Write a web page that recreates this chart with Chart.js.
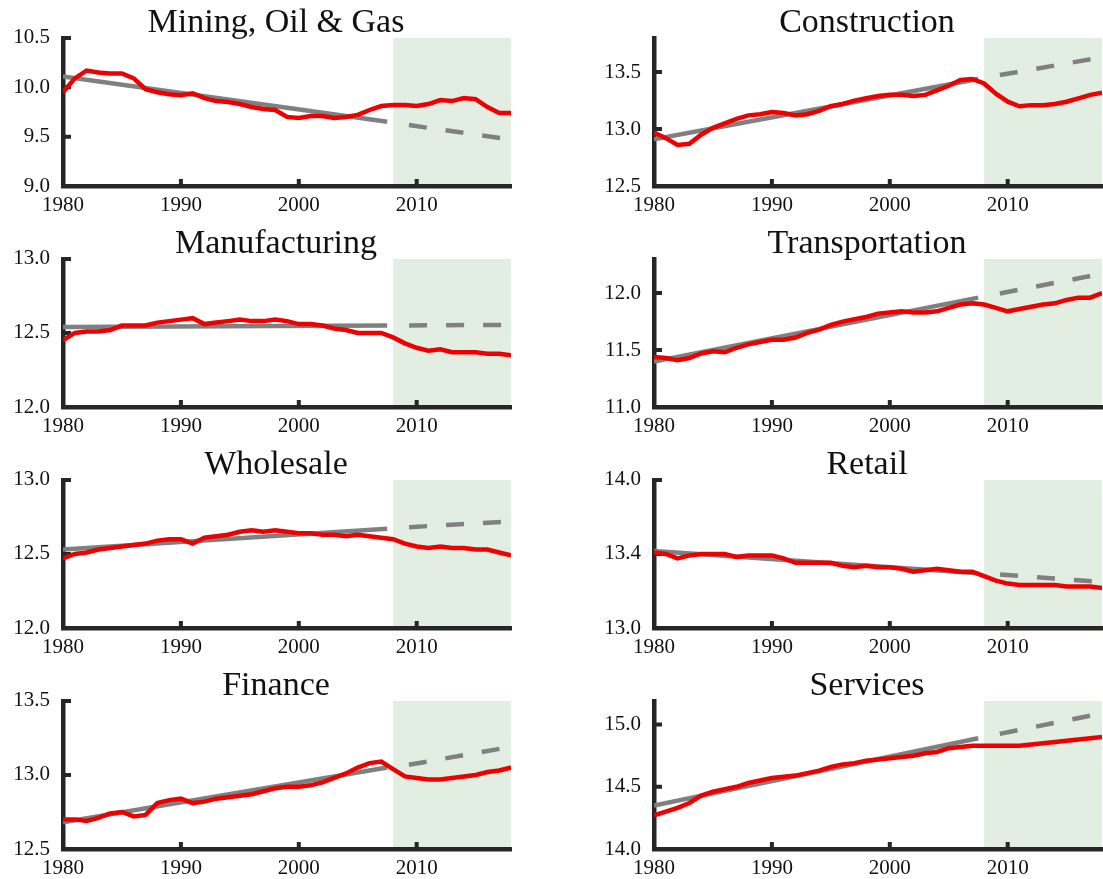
<!DOCTYPE html>
<html>
<head>
<meta charset="utf-8">
<title>Sectors</title>
<script src="https://cdn.jsdelivr.net/npm/chart.js@4.4.1/dist/chart.umd.min.js"></script>
<style>
  html, body { margin: 0; padding: 0; background: #fff; overflow: hidden; }
  .panel { position: absolute; width: 520px; height: 221px; }
</style>
</head>
<body>
<div class="panel" style="left:0px;top:0px"><canvas id="mining"></canvas></div>
<div class="panel" style="left:591px;top:0px"><canvas id="construction"></canvas></div>
<div class="panel" style="left:0px;top:221px"><canvas id="manufacturing"></canvas></div>
<div class="panel" style="left:591px;top:221px"><canvas id="transportation"></canvas></div>
<div class="panel" style="left:0px;top:442px"><canvas id="wholesale"></canvas></div>
<div class="panel" style="left:591px;top:442px"><canvas id="retail"></canvas></div>
<div class="panel" style="left:0px;top:663px"><canvas id="finance"></canvas></div>
<div class="panel" style="left:591px;top:663px"><canvas id="services"></canvas></div>
<script>
// years on the x axis
const years = [1980, 1981, 1982, 1983, 1984, 1985, 1986, 1987, 1988, 1989,
               1990, 1991, 1992, 1993, 1994, 1995, 1996, 1997, 1998, 1999,
               2000, 2001, 2002, 2003, 2004, 2005, 2006, 2007, 2008, 2009,
               2010, 2011, 2012, 2013, 2014, 2015, 2016, 2017, 2018]
const xTicks = [1980, 1990, 2000, 2010]
const shadeYears = [2008, 2018]
// trend: solid from 1980 to 2007.5, dashed from 2008 to 2018
const trendYears = [1980, 2007.5, 2008, 2018]

// red series
const mining = [9.95, 10.09, 10.17, 10.15, 10.14, 10.14, 10.09, 9.98, 9.95, 9.93,
                9.92, 9.94, 9.89, 9.86, 9.85, 9.83, 9.80, 9.78, 9.77, 9.70,
                9.69, 9.71, 9.71, 9.69, 9.70, 9.72, 9.77, 9.81, 9.82, 9.82,
                9.81, 9.83, 9.87, 9.86, 9.89, 9.88, 9.80, 9.74, 9.74]
const construction = [12.97, 12.92, 12.86, 12.87, 12.95, 13.01, 13.05, 13.09, 13.12, 13.13,
                      13.15, 13.14, 13.12, 13.13, 13.16, 13.20, 13.22, 13.25, 13.27, 13.29,
                      13.30, 13.30, 13.29, 13.30, 13.34, 13.38, 13.43, 13.44, 13.40, 13.31,
                      13.24, 13.20, 13.21, 13.21, 13.22, 13.24, 13.27, 13.30, 13.32]
const manufacturing = [12.45, 12.50, 12.51, 12.51, 12.52, 12.55, 12.55, 12.55, 12.57, 12.58,
                       12.59, 12.60, 12.56, 12.57, 12.58, 12.59, 12.58, 12.58, 12.59, 12.58,
                       12.56, 12.56, 12.55, 12.53, 12.52, 12.50, 12.50, 12.50, 12.47, 12.43,
                       12.40, 12.38, 12.39, 12.37, 12.37, 12.37, 12.36, 12.36, 12.35]
const transportation = [11.44, 11.43, 11.41, 11.43, 11.47, 11.49, 11.48, 11.52, 11.55, 11.57,
                        11.59, 11.59, 11.61, 11.65, 11.68, 11.72, 11.75, 11.77, 11.79, 11.82,
                        11.83, 11.84, 11.83, 11.83, 11.84, 11.87, 11.90, 11.91, 11.90, 11.87,
                        11.84, 11.86, 11.88, 11.90, 11.91, 11.94, 11.96, 11.96, 12.00]
const wholesale = [12.47, 12.50, 12.51, 12.53, 12.54, 12.55, 12.56, 12.57, 12.59, 12.60,
                   12.60, 12.57, 12.61, 12.62, 12.63, 12.65, 12.66, 12.65, 12.66, 12.65,
                   12.64, 12.64, 12.63, 12.63, 12.62, 12.63, 12.62, 12.61, 12.60, 12.57,
                   12.55, 12.54, 12.55, 12.54, 12.54, 12.53, 12.53, 12.51, 12.49]
const retail = [13.51, 13.50, 13.47, 13.49, 13.50, 13.50, 13.50, 13.48, 13.49, 13.49,
                13.49, 13.47, 13.44, 13.44, 13.44, 13.44, 13.42, 13.41, 13.42, 13.41,
                13.41, 13.40, 13.38, 13.39, 13.40, 13.39, 13.38, 13.38, 13.35, 13.32,
                13.30, 13.29, 13.29, 13.29, 13.29, 13.28, 13.28, 13.28, 13.27]
const finance = [12.70, 12.70, 12.69, 12.71, 12.74, 12.75, 12.72, 12.73, 12.81, 12.83,
                 12.84, 12.81, 12.82, 12.84, 12.85, 12.86, 12.87, 12.89, 12.91, 12.92,
                 12.92, 12.93, 12.95, 12.98, 13.01, 13.05, 13.08, 13.09, 13.04, 12.99,
                 12.98, 12.97, 12.97, 12.98, 12.99, 13.00, 13.02, 13.03, 13.05]
const services = [14.27, 14.30, 14.33, 14.37, 14.43, 14.46, 14.48, 14.50, 14.53, 14.55,
                  14.57, 14.58, 14.59, 14.61, 14.63, 14.66, 14.68, 14.69, 14.71, 14.72,
                  14.73, 14.74, 14.75, 14.77, 14.78, 14.81, 14.82, 14.83, 14.83, 14.83,
                  14.83, 14.83, 14.84, 14.85, 14.86, 14.87, 14.88, 14.89, 14.90]

// gray trend values at trendYears
const miningTrend = [10.11, 9.65, 9.64, 9.47]
const constructionTrend = [12.91, 13.44, 13.45, 13.63]
const manufacturingTrend = [12.54, 12.55, 12.55, 12.555]
const transportationTrend = [11.40, 11.96, 11.97, 12.17]
const wholesaleTrend = [12.53, 12.67, 12.675, 12.72]
const retailTrend = [13.52, 13.37, 13.37, 13.31]
const financeTrend = [12.68, 13.05, 13.05, 13.19]
const servicesTrend = [14.35, 14.89, 14.90, 15.09]

// y axis ranges and ticks
const miningRange = [9.0, 10.5]
const miningTicks = [9.0, 9.5, 10.0, 10.5]
const miningLabels = ['9.0', '9.5', '10.0', '10.5']
const constructionRange = [12.5, 13.8]
const constructionTicks = [12.5, 13.0, 13.5]
const constructionLabels = ['12.5', '13.0', '13.5']
const manufacturingRange = [12.0, 13.0]
const manufacturingTicks = [12.0, 12.5, 13.0]
const manufacturingLabels = ['12.0', '12.5', '13.0']
const transportationRange = [11.0, 12.3]
const transportationTicks = [11.0, 11.5, 12.0]
const transportationLabels = ['11.0', '11.5', '12.0']
const wholesaleRange = [12.0, 13.0]
const wholesaleTicks = [12.0, 12.5, 13.0]
const wholesaleLabels = ['12.0', '12.5', '13.0']
const retailRange = [13.0, 14.0]
const retailTicks = [13.0, 13.5, 14.0]
const retailLabels = ['13.0', '13.4', '14.0']
const financeRange = [12.5, 13.5]
const financeTicks = [12.5, 13.0, 13.5]
const financeLabels = ['12.5', '13.0', '13.5']
const servicesRange = [14.0, 15.19]
const servicesTicks = [14.0, 14.5, 15.0]
const servicesLabels = ['14.0', '14.5', '15.0']

const red = '#ee0000'
const gray = '#808080'
const axisColor = '#262626'
const shadeColor = '#e3eee2'
const fontFamily = "'Liberation Serif', 'DejaVu Serif', serif"

// green band behind everything, inward tick marks on top of the axes
const decor = {
    id: 'decor',
    afterLayout(chart) {
        // the titles sit a little left of the middle of the plot
        const t = chart.titleBlock
        const a = chart.chartArea
        const shift = (a.left + a.right) / 2 - 11 - (t.left + t.right) / 2
        t.left += shift
        t.right += shift
    },
    beforeDraw(chart) {
        const c = chart.ctx, a = chart.chartArea, x = chart.scales.x
        const x0 = x.getPixelForValue(shadeYears[0])
        const x1 = x.getPixelForValue(shadeYears[1])
        c.save()
        c.fillStyle = shadeColor
        c.fillRect(x0, a.top, x1 - x0, a.bottom - a.top)
        c.restore()
    },
    beforeDatasetsDraw(chart) {
        const c = chart.ctx, a = chart.chartArea
        c.save()
        c.strokeStyle = axisColor
        c.lineWidth = 4
        c.beginPath()
        chart.scales.y.ticks.forEach(t => {
            const py = chart.scales.y.getPixelForValue(t.value)
            c.moveTo(a.left, py)
            c.lineTo(a.left + 8, py)
        })
        chart.scales.x.ticks.forEach(t => {
            const px = chart.scales.x.getPixelForValue(t.value)
            c.moveTo(px, a.bottom)
            c.lineTo(px, a.bottom - 7)
        })
        c.stroke()
        c.restore()
    }
}

function points(xs, ys) {
    return xs.map((x, i) => ({ x: x, y: ys[i] }))
}

function makePanel(id, title, values, trend, range, yTicks, yLabels) {
    var ctx = document.getElementById(id).getContext('2d')
    return new Chart(ctx, {
        type: 'line',
        data: {
            datasets: [
                {
                    data: points(years, values),
                    borderColor: red,
                    borderWidth: 4.5,
                    pointRadius: 0,
                    tension: 0
                },
                {
                    data: points(trendYears.slice(0, 2), trend.slice(0, 2)),
                    borderColor: gray,
                    borderWidth: 4.5,
                    pointRadius: 0
                },
                {
                    data: points(trendYears.slice(2), trend.slice(2)),
                    borderColor: gray,
                    borderWidth: 4.5,
                    borderDash: [18, 19],
                    borderDashOffset: 21,
                    pointRadius: 0
                }
            ]
        },
        options: {
            responsive: true,
            maintainAspectRatio: false,
            animation: false,
            events: [],
            layout: { padding: { left: 0, right: 9, top: 0, bottom: 0 } },
            plugins: {
                legend: { display: false },
                tooltip: { enabled: false },
                title: {
                    display: true,
                    text: title,
                    color: '#111',
                    font: { family: fontFamily, size: 34, weight: 'normal', lineHeight: 0.88 },
                    padding: { top: 8, bottom: 0 }
                }
            },
            scales: {
                x: {
                    type: 'linear',
                    min: years[0],
                    max: years[years.length - 1],
                    afterBuildTicks: axis => { axis.ticks = xTicks.map(v => ({ value: v })) },
                    afterFit: s => { s.height = 35 },
                    grid: { display: false, drawTicks: false },
                    border: { display: true, color: axisColor, width: 4.5 },
                    ticks: {
                        color: '#111',
                        font: { family: fontFamily, size: 21 },
                        padding: 7,
                        maxRotation: 0,
                        autoSkip: false,
                        callback: v => String(v)
                    }
                },
                y: {
                    type: 'linear',
                    min: range[0],
                    max: range[1],
                    afterBuildTicks: axis => { axis.ticks = yTicks.map(v => ({ value: v })) },
                    afterFit: s => { s.width = 63 },
                    grid: { display: false, drawTicks: false },
                    border: { display: true, color: axisColor, width: 4.5 },
                    ticks: {
                        color: '#111',
                        font: { family: fontFamily, size: 21 },
                        padding: 13,
                        autoSkip: false,
                        callback: (v, i) => yLabels[i]
                    }
                }
            }
        },
        plugins: [decor]
    })
}

makePanel('mining', 'Mining, Oil & Gas', mining, miningTrend, miningRange, miningTicks, miningLabels)
makePanel('construction', 'Construction', construction, constructionTrend, constructionRange, constructionTicks, constructionLabels)
makePanel('manufacturing', 'Manufacturing', manufacturing, manufacturingTrend, manufacturingRange, manufacturingTicks, manufacturingLabels)
makePanel('transportation', 'Transportation', transportation, transportationTrend, transportationRange, transportationTicks, transportationLabels)
makePanel('wholesale', 'Wholesale', wholesale, wholesaleTrend, wholesaleRange, wholesaleTicks, wholesaleLabels)
makePanel('retail', 'Retail', retail, retailTrend, retailRange, retailTicks, retailLabels)
makePanel('finance', 'Finance', finance, financeTrend, financeRange, financeTicks, financeLabels)
makePanel('services', 'Services', services, servicesTrend, servicesRange, servicesTicks, servicesLabels)
</script>
</body>
</html>
